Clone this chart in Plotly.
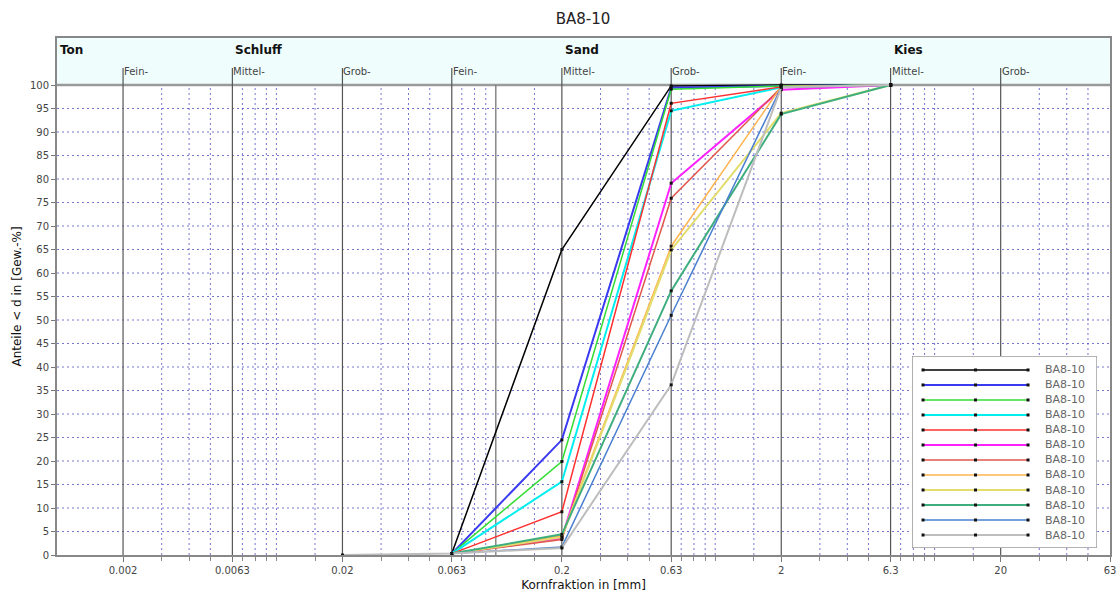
import math
import plotly.graph_objects as go

# ---------------- data ----------------
series_names = ["BA8-10"] * 12
series_colors = ["#000000", "#3a3af0", "#33dd33", "#00eeee", "#ff3030", "#ff22ff",
                 "#e0584c", "#ffb450", "#e2dd6c", "#3fae7e", "#4a7fcf", "#bdbdbd"]
series_widths = [1.5, 2, 1.5, 2, 1.5, 2, 1.5, 1.5, 2, 2, 1.5, 2]

sizes_std = [0.063, 0.2, 0.63, 2, 6.3]
series_x = [sizes_std] * 11 + [[0.02, 0.063, 0.2, 0.63, 2, 6.3]]
series_y = [
    [0.3, 65.0, 99.8, 100, 100],
    [0.3, 24.5, 99.4, 99.8, 100],
    [0.3, 19.9, 99.1, 99.8, 100],
    [0.3, 15.6, 94.5, 99.5, 100],
    [0.3, 9.2, 96.1, 99.6, 100],
    [0.3, 3.6, 79.1, 99.0, 100],
    [0.3, 3.3, 75.9, 99.5, 100],
    [0.3, 4.1, 65.7, 99.7, 100],
    [0.3, 3.8, 64.9, 94.0, 100],
    [0.3, 4.4, 56.2, 93.8, 100],
    [0.3, 1.7, 51.0, 99.5, 100],
    [0.0, 0.3, 1.5, 36.2, 99.5, 100],
]

tick_vals = [0.002, 0.0063, 0.02, 0.063, 0.2, 0.63, 2, 6.3, 20, 63]
tick_text = ["0.002", "0.0063", "0.02", "0.063", "0.2", "0.63", "2", "6.3", "20", "63"]
y_tick_vals = list(range(0, 101, 5))
minor_vals = [0.003, 0.004, 0.005, 0.007, 0.008, 0.009, 0.01, 0.015,
              0.03, 0.04, 0.05, 0.07, 0.08, 0.09, 0.15,
              0.3, 0.4, 0.5, 0.7, 0.8, 0.9, 1, 1.5,
              3, 4, 5, 7, 8, 9, 10, 15,
              30, 40, 50]
boundaries = [0.002, 0.0063, 0.02, 0.063, 0.2, 0.63, 2, 6.3, 20]
sub_labels = ["Fein-", "Mittel-", "Grob-", "Fein-", "Mittel-", "Grob-", "Fein-", "Mittel-", "Grob-"]
main_labels = ["Ton", "Schluff", "Sand", "Kies"]
main_label_x = [0.001, 0.0063, 0.2, 6.3]
special_line_x = 0.1

# ---------------- figure ----------------
fig = go.Figure()
for name, xs, ys, col, w in zip(series_names, series_x, series_y, series_colors, series_widths):
    fig.add_trace(go.Scatter(
        x=xs, y=ys, name=name, mode="lines+markers", showlegend=False,
        line=dict(color=col, width=w),
        marker=dict(color="#111111", size=3, symbol="square"),
    ))

# ---- hand-drawn legend in an inset subplot (pixel-like units) ----
LEG_W, LEG_H = 185, 192
fig.add_trace(go.Scatter(x=[0, LEG_W, LEG_W, 0, 0], y=[0, 0, LEG_H, LEG_H, 0],
                         xaxis="x2", yaxis="y2", mode="lines", fill="toself",
                         fillcolor="white", line=dict(color="#9a9a9a", width=1.5),
                         hoverinfo="skip", showlegend=False))
leg_annots = []
for i, (name, col, w) in enumerate(zip(series_names, series_colors, series_widths)):
    yy = 14 + 15 * i
    fig.add_trace(go.Scatter(x=[11, 63.5, 116], y=[yy, yy, yy], xaxis="x2", yaxis="y2",
                             mode="lines+markers", line=dict(color=col, width=w),
                             marker=dict(color="#111111", size=3, symbol="square"),
                             hoverinfo="skip", showlegend=False))
    leg_annots.append(dict(x=131, y=yy, xref="x2", yref="y2", text=name, showarrow=False,
                           xanchor="left", yanchor="middle",
                           font=dict(family="DejaVu Sans", size=11, color="#666")))

fig.update_layout(
    xaxis2=dict(domain=[0.812, 0.9877], range=[0, LEG_W], visible=False, anchor="y2", fixedrange=True),
    yaxis2=dict(domain=[0.0135, 0.385], range=[LEG_H, 0], visible=False, anchor="x2", fixedrange=True),
)

fig.update_layout(xaxis=dict(
    type="log", range=[-3, math.log10(63)], domain=[0, 1],
    tickvals=tick_vals, ticktext=tick_text,
    showgrid=False, zeroline=False, automargin=False,
    ticks="outside", ticklen=5, tickcolor="#777",
    tickfont=dict(family="DejaVu Sans", size=10, color="#444"),
    showline=True, linecolor="#888", linewidth=1.5, mirror=True,
    minor=dict(tickvals=minor_vals, ticks="outside", ticklen=4, tickcolor="#888", showgrid=False),
    title=dict(text="Kornfraktion in [mm]", standoff=6,
               font=dict(family="DejaVu Sans", size=12, color="#111")),
))
fig.update_layout(yaxis=dict(
    range=[0, 110], tickvals=y_tick_vals, domain=[0, 1],
    showgrid=False, zeroline=False, automargin=False,
    ticks="outside", ticklen=4, tickcolor="#777",
    tickfont=dict(family="DejaVu Sans", size=10, color="#444"),
    showline=True, linecolor="#888", linewidth=2, mirror=True,
    title=dict(text="Anteile < d in [Gew.-%]", standoff=6,
               font=dict(family="DejaVu Sans", size=12, color="#111")),
))

grid_col = "rgba(60,60,190,0.7)"
shapes = []
# header band
shapes.append(dict(type="rect", xref="paper", yref="y", x0=0, x1=1, y0=100, y1=110,
                   fillcolor="#effdfd", line=dict(width=0), layer="below"))
# dotted grid (vertical minor lines, horizontal every 5 %)
for v in minor_vals:
    shapes.append(dict(type="line", xref="x", yref="y", x0=v, x1=v, y0=0, y1=100,
                       line=dict(color=grid_col, width=1, dash="2px,3px"), layer="below"))
for v in y_tick_vals[1:-1]:
    shapes.append(dict(type="line", xref="paper", yref="y", x0=0, x1=1, y0=v, y1=v,
                       line=dict(color=grid_col, width=1, dash="2px,3px"), layer="below"))
# special solid line at 0.1
shapes.append(dict(type="line", xref="x", yref="y", x0=special_line_x, x1=special_line_x,
                   y0=0, y1=100, line=dict(color="#777", width=1.3), layer="below"))
# boundary lines
for b in boundaries:
    shapes.append(dict(type="line", xref="x", yref="y", x0=b, x1=b, y0=0, y1=103.6,
                       line=dict(color="#555", width=1.2), layer="below"))
# 100 % line
shapes.append(dict(type="line", xref="paper", yref="y", x0=0, x1=1, y0=100, y1=100,
                   line=dict(color="#9a9a9a", width=2.5), layer="below"))
fig.update_layout(shapes=shapes)

annotations = []
for b, t in zip(boundaries, sub_labels):
    annotations.append(dict(x=math.log10(b), y=102.8, xref="x", yref="y", text=t,
                            showarrow=False, xanchor="left", yanchor="middle", xshift=-1,
                            font=dict(family="DejaVu Sans", size=10, color="#444")))
for x, t in zip(main_label_x, main_labels):
    annotations.append(dict(x=math.log10(x), y=107.4, xref="x", yref="y", text="<b>" + t + "</b>",
                            showarrow=False, xanchor="left", yanchor="middle", xshift=1,
                            font=dict(family="DejaVu Sans", size=12, color="#111")))
fig.update_layout(annotations=annotations + leg_annots)

fig.update_layout(
    width=1117, height=594,
    margin=dict(l=57, r=7, t=38, b=39),
    plot_bgcolor="white", paper_bgcolor="white",
    title=dict(text="BA8-10", x=0.522, xanchor="center", y=0.968, yanchor="middle",
               font=dict(family="DejaVu Sans", size=15, color="#222")),
    showlegend=False,
)

fig.write_html("out.html", config={"displayModeBar": False},
               post_script="document.body.style.margin='0';document.body.style.overflow='hidden';")
